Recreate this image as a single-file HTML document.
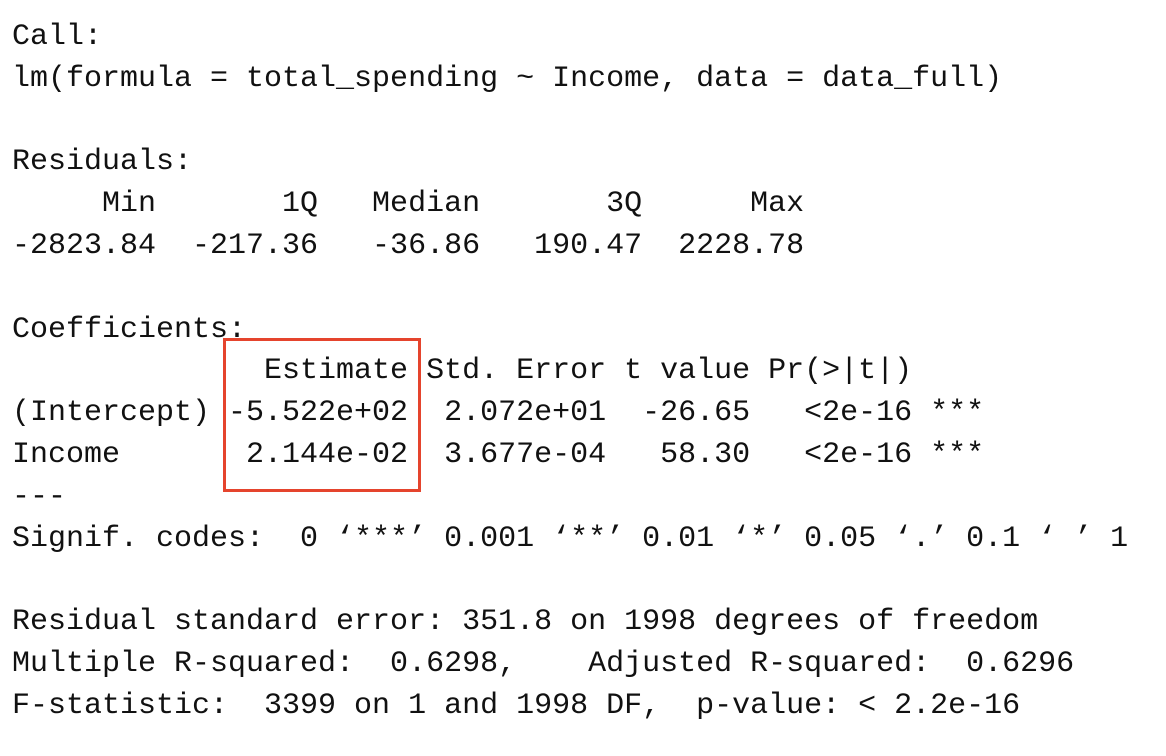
<!DOCTYPE html>
<html>
<head>
<meta charset="utf-8">
<style>
  html, body { margin: 0; padding: 0; background: #ffffff; }
  body { width: 1166px; height: 756px; position: relative; overflow: hidden; }
  #console {
    position: absolute; left: 12px; top: 17px; margin: 0;
    font-family: "Liberation Mono", "DejaVu Sans Mono", monospace;
    font-size: 30px; line-height: 41.8px; color: #111;
    white-space: pre;
  }
  #highlight-box {
    position: absolute; left: 223px; top: 338px; width: 192px; height: 148px;
    border: 3px solid #e5442d;
  }
</style>
</head>
<body>
<pre id="console"><span>Call:</span>
<span>lm(formula = total_spending ~ Income, data = data_full)</span>

<span>Residuals:</span>
<span>     Min       1Q   Median       3Q      Max </span>
<span>-2823.84  -217.36   -36.86   190.47  2228.78 </span>

<span>Coefficients:</span>
<span>              Estimate Std. Error t value Pr(&gt;|t|)    </span>
<span>(Intercept) -5.522e+02  2.072e+01  -26.65   &lt;2e-16 ***</span>
<span>Income       2.144e-02  3.677e-04   58.30   &lt;2e-16 ***</span>
<span>---</span>
<span>Signif. codes:  0 ‘***’ 0.001 ‘**’ 0.01 ‘*’ 0.05 ‘.’ 0.1 ‘ ’ 1</span>

<span>Residual standard error: 351.8 on 1998 degrees of freedom</span>
<span>Multiple R-squared:  0.6298,    Adjusted R-squared:  0.6296 </span>
<span>F-statistic:  3399 on 1 and 1998 DF,  p-value: &lt; 2.2e-16</span></pre>
<div id="highlight-box"></div>
</body>
</html>
